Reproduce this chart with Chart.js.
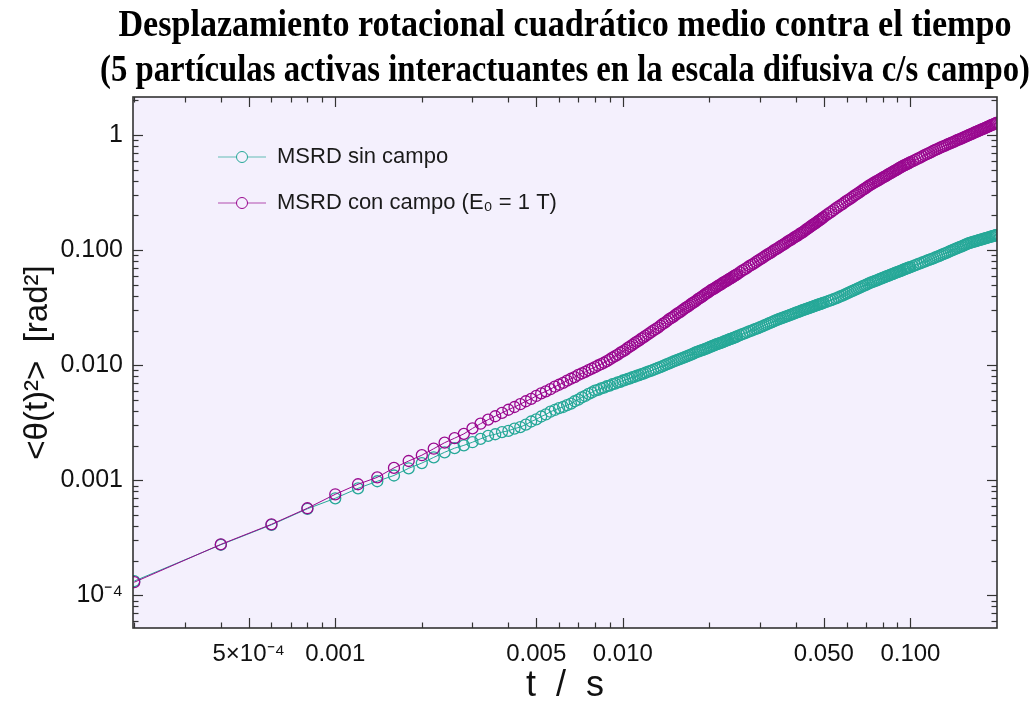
<!DOCTYPE html>
<html>
<head>
<meta charset="utf-8">
<script src="https://cdn.jsdelivr.net/npm/chart.js@4.4.1/dist/chart.umd.min.js"></script>
<style>
  html, body { margin: 0; padding: 0; background: #ffffff; }
  canvas { display: block; }
</style>
</head>
<body>
<canvas id="grafico" width="1035" height="710"></canvas>
<script>
// Tiempos de muestreo (s)
const tiempos = [
  0.0002, 0.0004, 0.0006, 0.0008, 0.0010, 0.0012, 0.0014, 0.0016, 0.0018, 0.0020,
  0.0022, 0.0024, 0.0026, 0.0028, 0.0030, 0.0032, 0.0034, 0.0036, 0.0038, 0.0040,
  0.0042, 0.0044, 0.0046, 0.0048, 0.0050, 0.0052, 0.0054, 0.0056, 0.0058, 0.0060,
  0.0062, 0.0064, 0.0066, 0.0068, 0.0070, 0.0072, 0.0074, 0.0076, 0.0078, 0.0080,
  0.0082, 0.0084, 0.0086, 0.0088, 0.0090, 0.0092, 0.0094, 0.0096, 0.0098, 0.0100,
  0.0102, 0.0104, 0.0106, 0.0108, 0.0110, 0.0112, 0.0114, 0.0116, 0.0118, 0.0120,
  0.01225, 0.0125, 0.01275, 0.0130, 0.01325, 0.0135, 0.01375, 0.0140, 0.01425, 0.0145,
  0.01475, 0.0150, 0.01525, 0.0155, 0.01575, 0.0160, 0.01625, 0.0165, 0.01675, 0.0170,
  0.01725, 0.0175, 0.01775, 0.0180, 0.01825, 0.0185, 0.01875, 0.0190, 0.01925, 0.0195,
  0.01975, 0.0200, 0.02025, 0.0205, 0.02075, 0.0210, 0.02125, 0.0215, 0.02175, 0.0220,
  0.02225, 0.0225, 0.02275, 0.0230, 0.02325, 0.0235, 0.02375, 0.0240, 0.02425, 0.0245,
  0.02475, 0.0250,
  0.0255, 0.0260, 0.0265, 0.0270, 0.0275, 0.0280, 0.0285, 0.0290, 0.0295, 0.0300,
  0.0305, 0.0310, 0.0315, 0.0320, 0.0325, 0.0330, 0.0335, 0.0340, 0.0345, 0.0350,
  0.0355, 0.0360, 0.0365, 0.0370, 0.0375, 0.0380, 0.0385, 0.0390, 0.0395, 0.0400,
  0.0405, 0.0410, 0.0415, 0.0420, 0.0425, 0.0430, 0.0435, 0.0440, 0.0445, 0.0450,
  0.0455, 0.0460, 0.0465, 0.0470, 0.0475, 0.0480, 0.0485, 0.0490, 0.0495, 0.0500,
  0.051, 0.052, 0.053, 0.054, 0.055, 0.056, 0.057, 0.058, 0.059, 0.060,
  0.061, 0.062, 0.063, 0.064, 0.065, 0.066, 0.067, 0.068, 0.069, 0.070,
  0.071, 0.072, 0.073, 0.074, 0.075, 0.076, 0.077, 0.078, 0.079, 0.080,
  0.081, 0.082, 0.083, 0.084, 0.085, 0.086, 0.087, 0.088, 0.089, 0.090,
  0.091, 0.092, 0.093, 0.094, 0.095, 0.096, 0.097, 0.098, 0.099, 0.100,
  0.102, 0.104, 0.106, 0.108, 0.110, 0.112, 0.114, 0.116, 0.118, 0.120,
  0.122, 0.124, 0.126, 0.128, 0.130, 0.132, 0.134, 0.136, 0.138, 0.140,
  0.142, 0.144, 0.146, 0.148, 0.150, 0.152, 0.154, 0.156, 0.158, 0.160,
  0.162, 0.164, 0.166, 0.168, 0.170, 0.172, 0.174, 0.176, 0.178, 0.180,
  0.182, 0.184, 0.186, 0.188, 0.190, 0.192, 0.194, 0.196, 0.198, 0.200
];

// MSRD sin campo (rad^2)
const msrdSinCampo = [
  1.33e-4, 2.75e-4, 4.10e-4, 5.65e-4, 6.97e-4, 8.51e-4, 9.80e-4, 1.10e-3, 1.27e-3, 1.41e-3,
  1.58e-3, 1.75e-3, 1.90e-3, 2.01e-3, 2.14e-3, 2.29e-3, 2.43e-3, 2.51e-3, 2.62e-3, 2.69e-3,
  2.81e-3, 2.90e-3, 3.04e-3, 3.24e-3, 3.38e-3, 3.58e-3, 3.73e-3, 3.94e-3, 4.08e-3, 4.23e-3,
  4.33e-3, 4.50e-3, 4.63e-3, 4.86e-3, 5.01e-3, 5.25e-3, 5.40e-3, 5.63e-3, 5.79e-3, 6.02e-3,
  6.11e-3, 6.28e-3, 6.37e-3, 6.56e-3, 6.64e-3, 6.83e-3, 6.90e-3, 7.10e-3, 7.17e-3, 7.36e-3,
  7.43e-3, 7.61e-3, 7.68e-3, 7.87e-3, 7.93e-3, 8.12e-3, 8.18e-3, 8.37e-3, 8.43e-3, 8.62e-3,
  8.78e-3, 8.93e-3, 9.10e-3, 9.27e-3, 9.45e-3, 9.63e-3, 9.82e-3, 0.01001, 0.01020, 0.01038,
  0.01057, 0.01076, 0.01093, 0.01110, 0.01128, 0.01146, 0.01163, 0.01180, 0.01198, 0.01216,
  0.01236, 0.01256, 0.01276, 0.01295, 0.01313, 0.01329, 0.01344, 0.01360, 0.01377, 0.01394,
  0.01412, 0.01431, 0.01450, 0.01469, 0.01487, 0.01505, 0.01521, 0.01537, 0.01553, 0.01570,
  0.01588, 0.01606, 0.01625, 0.01644, 0.01662, 0.01679, 0.01695, 0.01711, 0.01728, 0.01746,
  0.01765, 0.01784,
  0.01820, 0.01856, 0.01892, 0.01928, 0.01963, 0.01997, 0.02031, 0.02065, 0.02099, 0.02135,
  0.02173, 0.02212, 0.02251, 0.02290, 0.02329, 0.02368, 0.02407, 0.02445, 0.02483, 0.02519,
  0.02553, 0.02586, 0.02619, 0.02652, 0.02686, 0.02720, 0.02754, 0.02789, 0.02823, 0.02857,
  0.02891, 0.02924, 0.02956, 0.02987, 0.03018, 0.03050, 0.03082, 0.03114, 0.03146, 0.03178,
  0.03211, 0.03244, 0.03276, 0.03306, 0.03336, 0.03366, 0.03397, 0.03429, 0.03461, 0.03494,
  0.03554, 0.03615, 0.03676, 0.03738, 0.03803, 0.03872, 0.03950, 0.04029, 0.04108, 0.04188,
  0.04268, 0.04347, 0.04426, 0.04505, 0.04585, 0.04666, 0.04748, 0.04831, 0.04913, 0.04994,
  0.05075, 0.05153, 0.05227, 0.05298, 0.05368, 0.05438, 0.05509, 0.05581, 0.05653, 0.05725,
  0.05796, 0.05867, 0.05938, 0.06009, 0.06079, 0.06149, 0.06219, 0.06290, 0.06361, 0.06432,
  0.06503, 0.06574, 0.06644, 0.06714, 0.06784, 0.06853, 0.06921, 0.06989, 0.07057, 0.07125,
  0.07261, 0.07398, 0.07534, 0.07670, 0.07806, 0.07943, 0.08079, 0.08214, 0.08350, 0.08486,
  0.08624, 0.08763, 0.08914, 0.09066, 0.09217, 0.09369, 0.09520, 0.09672, 0.09825, 0.09977,
  0.1013, 0.1028, 0.1044, 0.1059, 0.1074, 0.1089, 0.1105, 0.1120, 0.1136, 0.1151,
  0.1162, 0.1172, 0.1183, 0.1193, 0.1204, 0.1214, 0.1225, 0.1235, 0.1245, 0.1255,
  0.1265, 0.1275, 0.1286, 0.1296, 0.1306, 0.1316, 0.1326, 0.1336, 0.1346, 0.1356
];

// MSRD con campo E0 = 1 T (rad^2)
const msrdConCampo = [
  1.30e-4, 2.77e-4, 4.14e-4, 5.71e-4, 7.55e-4, 9.23e-4, 1.06e-3, 1.28e-3, 1.47e-3, 1.65e-3,
  1.88e-3, 2.12e-3, 2.32e-3, 2.53e-3, 2.82e-3, 3.10e-3, 3.36e-3, 3.60e-3, 3.85e-3, 4.10e-3,
  4.33e-3, 4.58e-3, 4.86e-3, 5.10e-3, 5.40e-3, 5.68e-3, 5.92e-3, 6.18e-3, 6.50e-3, 6.76e-3,
  7.02e-3, 7.35e-3, 7.62e-3, 7.88e-3, 8.22e-3, 8.49e-3, 8.74e-3, 9.07e-3, 9.34e-3, 9.60e-3,
  9.93e-3, 0.01020, 0.01050, 0.01086, 0.01120, 0.01165, 0.01200, 0.01236, 0.01282, 0.01318,
  0.01360, 0.01412, 0.01455, 0.01500, 0.01553, 0.01600, 0.01645, 0.01700, 0.01745, 0.01797,
  0.0186, 0.01927, 0.0200, 0.0206, 0.0212, 0.0220, 0.0228, 0.0234, 0.0242, 0.0251,
  0.0258, 0.0264, 0.0274, 0.0282, 0.0288, 0.0296, 0.0306, 0.0314, 0.0321, 0.0329,
  0.0339, 0.0348, 0.0355, 0.0364, 0.0375, 0.0383, 0.0390, 0.0400, 0.0411, 0.0420,
  0.0427, 0.0437, 0.0448, 0.0456, 0.0463, 0.0471, 0.0482, 0.0491, 0.0498, 0.0507,
  0.0518, 0.0527, 0.0534, 0.0543, 0.0554, 0.0563, 0.0571, 0.0580, 0.0591, 0.0601,
  0.0608, 0.0617,
  0.0641, 0.0662, 0.0679, 0.0701, 0.0725, 0.0745, 0.0763, 0.0786, 0.0811, 0.0832,
  0.0851, 0.0875, 0.0900, 0.0922, 0.0942, 0.0966, 0.0993, 0.1015, 0.1035, 0.1062,
  0.1090, 0.1112, 0.1133, 0.1160, 0.1189, 0.1212, 0.1233, 0.1261, 0.1291, 0.1316,
  0.1338, 0.1366, 0.1396, 0.1421, 0.1447, 0.1480, 0.1515, 0.1544, 0.1571, 0.1605,
  0.1641, 0.1671, 0.1699, 0.1734, 0.1771, 0.1803, 0.1833, 0.1869, 0.1907, 0.1940,
  0.2012, 0.2085, 0.2150, 0.2221, 0.2301, 0.2378, 0.2443, 0.2512, 0.2597, 0.2676,
  0.2743, 0.2818, 0.2905, 0.2987, 0.3058, 0.3136, 0.3228, 0.3312, 0.3387, 0.3470,
  0.3565, 0.3652, 0.3717, 0.3790, 0.3874, 0.3951, 0.4016, 0.4090, 0.4176, 0.4255,
  0.4322, 0.4398, 0.4485, 0.4566, 0.4635, 0.4712, 0.4802, 0.4884, 0.4954, 0.5032,
  0.5123, 0.5207, 0.5279, 0.5359, 0.5439, 0.5512, 0.5573, 0.5642, 0.5724, 0.5799,
  0.5936, 0.6088, 0.6231, 0.6368, 0.6514, 0.6679, 0.6826, 0.6962, 0.7113, 0.7281,
  0.7421, 0.7552, 0.7689, 0.7839, 0.7971, 0.8092, 0.8229, 0.8379, 0.8511, 0.8632,
  0.8769, 0.8918, 0.9051, 0.9172, 0.9309, 0.9458, 0.9596, 0.9723, 0.9859, 1.0008,
  1.0146, 1.0273, 1.0414, 1.0567, 1.0706, 1.0834, 1.0969, 1.1118, 1.1256, 1.1384,
  1.1524, 1.1676, 1.1821, 1.1952, 1.2094, 1.2247, 1.2386, 1.2513, 1.2654, 1.2800
];

const nombresSeries = ['MSRD sin campo', 'MSRD con campo (E\u2080 = 1 T)'];
const coloresSeries = ['rgb(38,168,152)', 'rgb(153,8,143)'];

const ticksX = [0.0005, 0.001, 0.005, 0.01, 0.05, 0.1];
const etiquetasX = ['5\u00d710\u207b\u2074', '0.001', '0.005', '0.010', '0.050', '0.100'];
const ticksY = [1e-4, 1e-3, 1e-2, 1e-1, 1];
const etiquetasY = ['10\u207b\u2074', '0.001', '0.010', '0.100', '1'];

const titulo = [
  'Desplazamiento rotacional cuadrático medio contra el tiempo',
  '(5 partículas activas interactuantes en la escala difusiva c/s campo)'
];
const tituloEjeX = 't  /  s';
const tituloEjeY = '<\u03b8(t)\u00b2>  [rad\u00b2]';

const rangoX = [0.000198, 0.2];
const rangoY = [5.2e-5, 2.14];

// Marcas secundarias de los ejes logarítmicos (2..9 por década)
function marcasMenores(min, max, mayores) {
  const out = [];
  for (let e = -6; e <= 1; e++) {
    for (let m = 1; m <= 9; m++) {
      const v = m * Math.pow(10, e);
      if (v > min * 1.001 && v < max * 0.999 &&
          !mayores.some(t => Math.abs(t - v) / t < 1e-6)) out.push(v);
    }
  }
  return out;
}

const serie = (ys) => tiempos.map((t, i) => ({ x: t, y: ys[i] }));

const fondoPlugin = {
  id: 'fondo',
  beforeDatasetsDraw(chart) {
    const { ctx, chartArea: a } = chart;
    ctx.save();
    ctx.fillStyle = '#f4f0fd';
    ctx.fillRect(a.left, a.top, a.right - a.left, a.bottom - a.top);
    ctx.restore();
  }
};

const marcoPlugin = {
  id: 'marco',
  afterDraw(chart) {
    const { ctx, chartArea: a, scales } = chart;
    const sx = scales.x, sy = scales.y;
    ctx.save();
    ctx.strokeStyle = '#333333';
    ctx.lineWidth = 1.2;
    const linea = (x1, y1, x2, y2) => { ctx.beginPath(); ctx.moveTo(x1, y1); ctx.lineTo(x2, y2); ctx.stroke(); };

    const menX = marcasMenores(rangoX[0], rangoX[1], ticksX);
    const menY = marcasMenores(rangoY[0], rangoY[1], ticksY);
    ticksX.concat(menX).forEach(v => {
      const len = ticksX.includes(v) ? 10 : 5.5;
      const px = Math.round(sx.getPixelForValue(v)) + 0.5;
      linea(px, a.bottom, px, a.bottom - len);
      linea(px, a.top, px, a.top + len);
    });
    ticksY.concat(menY).forEach(v => {
      const len = ticksY.includes(v) ? 10 : 5.5;
      const py = Math.round(sy.getPixelForValue(v)) + 0.5;
      linea(a.left, py, a.left + len, py);
      linea(a.right, py, a.right - len, py);
    });

    ctx.lineWidth = 1.6;
    ctx.strokeRect(a.left, a.top, a.right - a.left, a.bottom - a.top);

    // Leyenda dentro del área de trazado
    chart.data.datasets.forEach((ds, i) => {
      const y = a.top + 60 + i * 46;
      const x0 = a.left + 85;
      ctx.globalAlpha = 0.7;
      ctx.strokeStyle = ds.borderColor;
      ctx.lineWidth = 1.2;
      linea(x0, y, x0 + 48, y);
      ctx.globalAlpha = 1;
      ctx.beginPath();
      ctx.arc(x0 + 24, y, 5.5, 0, Math.PI * 2);
      ctx.fillStyle = '#f4f0fd';
      ctx.fill();
      ctx.lineWidth = 1;
      ctx.stroke();
      ctx.fillStyle = '#1a1a1a';
      ctx.font = '22px "Liberation Sans", Arial, sans-serif';
      ctx.textBaseline = 'middle';
      ctx.textAlign = 'left';
      ctx.fillText(ds.label, x0 + 59, y);
    });

    // Título en dos líneas, centrado sobre el área de trazado
    ctx.fillStyle = '#000000';
    ctx.font = 'bold 38px "Liberation Serif", "Times New Roman", serif';
    ctx.textAlign = 'center';
    ctx.textBaseline = 'alphabetic';
    const cx = (a.left + a.right) / 2;
    const anchos = [893, 930];
    [36, 81].forEach((yb, i) => {
      const escala = anchos[i] / ctx.measureText(titulo[i]).width;
      ctx.save();
      ctx.translate(cx, yb);
      ctx.scale(escala, 1);
      ctx.fillText(titulo[i], 0, 0);
      ctx.restore();
    });
    ctx.restore();
  }
};

new Chart(document.getElementById('grafico'), {
  type: 'line',
  data: {
    datasets: [
      {
        label: nombresSeries[0],
        data: serie(msrdSinCampo),
        borderColor: coloresSeries[0],
        pointBorderColor: coloresSeries[0],
        order: 1
      },
      {
        label: nombresSeries[1],
        data: serie(msrdConCampo),
        borderColor: coloresSeries[1],
        pointBorderColor: coloresSeries[1],
        order: 0
      }
    ]
  },
  options: {
    responsive: false,
    animation: false,
    devicePixelRatio: 1,
    layout: { padding: { left: 0, right: 38, top: 97, bottom: 0 } },
    elements: {
      line: { borderWidth: 1, tension: 0, fill: false },
      point: { radius: 5.5, borderWidth: 1.3, backgroundColor: 'rgba(0,0,0,0)', hoverRadius: 5.5, pointStyle: 'circle' }
    },
    datasets: { line: { clip: 0 } },
    plugins: {
      legend: { display: false },
      title: { display: false },
      tooltip: { enabled: false }
    },
    scales: {
      x: {
        type: 'logarithmic',
        bounds: 'data',
        min: rangoX[0],
        max: rangoX[1],
        grid: { display: false, drawTicks: false },
        border: { display: false },
        afterFit: (s) => { s.height = 82; },
        afterBuildTicks: (s) => { s.ticks = ticksX.map(v => ({ value: v })); },
        ticks: {
          autoSkip: false,
          maxRotation: 0,
          padding: 12,
          color: '#111111',
          font: { family: '"Liberation Sans", Arial, sans-serif', size: 24 },
          callback: (v, i) => etiquetasX[i]
        },
        title: {
          display: true,
          text: tituloEjeX,
          color: '#111111',
          font: { family: '"Liberation Sans", Arial, sans-serif', size: 36 },
          padding: { top: 0, bottom: 2 }
        }
      },
      y: {
        type: 'logarithmic',
        bounds: 'data',
        min: rangoY[0],
        max: rangoY[1],
        grid: { display: false, drawTicks: false },
        border: { display: false },
        afterFit: (s) => { s.width = 133; },
        afterBuildTicks: (s) => { s.ticks = ticksY.map(v => ({ value: v })); },
        ticks: {
          autoSkip: false,
          padding: 10,
          color: '#111111',
          font: { family: '"Liberation Sans", Arial, sans-serif', size: 25 },
          callback: (v, i) => etiquetasY[i]
        },
        title: {
          display: true,
          text: tituloEjeY,
          color: '#111111',
          font: { family: '"Liberation Sans", Arial, sans-serif', size: 33 },
          padding: { top: 18, bottom: 0 }
        }
      }
    }
  },
  plugins: [fondoPlugin, marcoPlugin]
});
</script>
</body>
</html>
